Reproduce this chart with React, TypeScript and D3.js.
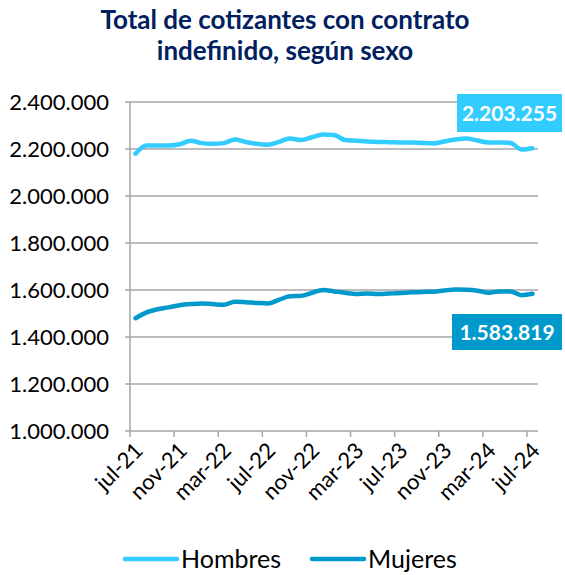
import React from "react";
import * as d3 from "d3";

const months = [
  "jul-21","ago-21","sep-21","oct-21","nov-21","dic-21","ene-22","feb-22","mar-22","abr-22","may-22","jun-22",
  "jul-22","ago-22","sep-22","oct-22","nov-22","dic-22","ene-23","feb-23","mar-23","abr-23","may-23","jun-23",
  "jul-23","ago-23","sep-23","oct-23","nov-23","dic-23","ene-24","feb-24","mar-24","abr-24","may-24","jun-24","jul-24",
];

const hombres = [
  2180000, 2215000, 2215000, 2215000, 2220000, 2235000, 2225000, 2222000, 2225000, 2240000, 2230000, 2222000,
  2218000, 2230000, 2245000, 2238000, 2250000, 2262000, 2260000, 2238000, 2235000, 2232000, 2230000, 2229000,
  2228000, 2228000, 2226000, 2224000, 2232000, 2240000, 2245000, 2236000, 2228000, 2228000, 2226000, 2198000, 2203255,
];

const mujeres = [
  1480000, 1505000, 1518000, 1526000, 1535000, 1540000, 1543000, 1540000, 1537000, 1550000, 1548000, 1545000,
  1543000, 1558000, 1573000, 1575000, 1588000, 1600000, 1594000, 1588000, 1583000, 1585000, 1583000, 1585000,
  1587000, 1590000, 1592000, 1593000, 1598000, 1602000, 1601000, 1597000, 1588000, 1594000, 1594000, 1578000, 1583819,
];

const yTicks = [1000000, 1200000, 1400000, 1600000, 1800000, 2000000, 2200000, 2400000];
const seriesNames = ["Hombres", "Mujeres"];
const lastLabels = ["2.203.255", "1.583.819"];

const colors = ["#33CCFF", "#0099CC"];
const FONT = "Lato, 'Liberation Sans', sans-serif";

const fmt = (v: number) => d3.format(",")(v).replace(/,/g, ".");

export default function App() {
  const W = 565, H = 575;
  const x = d3.scaleBand<string>().domain(months).range([130, 538]).padding(0);
  const y = d3.scaleLinear().domain([1000000, 2400000]).range([431, 102]);
  const cx = (m: string) => (x(m) as number) + x.bandwidth() / 2;
  const line = d3.line<number>()
    .x((_, i) => cx(months[i]))
    .y((v) => y(v))
    .curve(d3.curveMonotoneX);
  const series = [hombres, mujeres];
  const tickIdx = months.map((_, i) => i).filter((i) => i % 4 === 0);

  return (
    <svg width={W} height={H} style={{ position: "absolute", left: 0, top: 0, background: "#fff" }} fontFamily={FONT}>
      <text x={285} y={29} textAnchor="middle" fontSize={26} fontWeight="bold" fill="#002060">
        Total de cotizantes con contrato
      </text>
      <text x={285} y={60} textAnchor="middle" fontSize={26} fontWeight="bold" fill="#002060">
        indefinido, según sexo
      </text>

      {yTicks.map((t) => (
        <g key={t}>
          <line x1={125} x2={538} y1={y(t)} y2={y(t)} stroke="#A6A6A6" strokeWidth={1.5} />
          <text x={109} y={y(t)} dy="0.36em" textAnchor="end" fontSize={22} fill="#000">
            {fmt(t)}
          </text>
        </g>
      ))}
      <line x1={130} x2={130} y1={102} y2={431} stroke="#A6A6A6" strokeWidth={1.5} />
      {tickIdx.map((i) => (
        <line key={i} x1={x(months[i]) as number} x2={x(months[i]) as number} y1={431} y2={437} stroke="#A6A6A6" strokeWidth={1.5} />
      ))}
      {tickIdx.map((i) => {
        const px = cx(months[i]) - 2;
        const py = 441;
        return (
          <text key={"l" + i} x={px} y={py} transform={`rotate(-45 ${px} ${py})`} textAnchor="end" dy="0.7em" fontSize={22} fill="#000">
            {months[i]}
          </text>
        );
      })}

      {series.map((s, k) => (
        <path key={k} d={line(s) as string} fill="none" stroke={colors[k]} strokeWidth={4.5} strokeLinejoin="round" strokeLinecap="round" />
      ))}

      <rect x={457} y={94} width={105} height={38} fill={colors[0]} />
      <text x={509.5} y={113} dy="0.36em" textAnchor="middle" fontSize={21} fontWeight="bold" fill="#fff">{lastLabels[0]}</text>
      <rect x={452} y={314} width={110} height={36} fill={colors[1]} />
      <text x={507} y={332} dy="0.36em" textAnchor="middle" fontSize={21} fontWeight="bold" fill="#fff">{lastLabels[1]}</text>

      {seriesNames.map((n, k) => {
        const lx = k === 0 ? 125 : 312;
        return (
          <g key={n}>
            <line x1={lx} x2={lx + 52} y1={559} y2={559} stroke={colors[k]} strokeWidth={4.5} strokeLinecap="round" />
            <text x={lx + 56} y={559} dy="0.36em" fontSize={25} fill="#000">{n}</text>
          </g>
        );
      })}
    </svg>
  );
}
